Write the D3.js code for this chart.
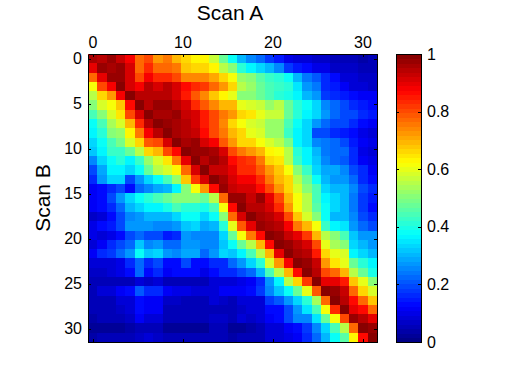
<!DOCTYPE html>
<html>
<head>
<meta charset="utf-8">
<script src="https://cdn.jsdelivr.net/npm/d3@7"></script>
<style>
  html, body { margin: 0; padding: 0; background: #fff; }
  svg { display: block; }
  text { font-family: "Liberation Sans", sans-serif; fill: #000; }
  .tick text { font-size: 16px; }
</style>
</head>
<body>
<svg width="512" height="384"></svg>
<script>
// similarity between scans
var row0  = [.96,.95,.97,.93,.875,.78,.8,.72,.75,.7,.66,.64,.625,.57,.48,.38,.31,.25,.22,.18,.15,.1,.09,.09,.07,.07,.05,.05,.05,.04,.05];
var row1  = [.9,.98,.96,.97,.91,.78,.84,.78,.78,.76,.68,.67,.66,.64,.56,.5,.42,.37,.33,.3,.26,.18,.15,.13,.1,.1,.07,.07,.07,.05,.05];
var row2  = [.78,.9,.98,.97,.92,.8,.88,.83,.83,.8,.74,.74,.74,.71,.66,.62,.53,.5,.46,.43,.41,.38,.3,.24,.21,.17,.13,.09,.09,.07,.07];
var row3  = [.62,.8,.88,.99,.91,.88,.94,.92,.94,.91,.86,.84,.82,.77,.73,.66,.56,.53,.47,.45,.43,.41,.35,.27,.24,.17,.15,.12,.09,.08,.07];
var row4  = [.56,.67,.72,.88,1,.95,.95,.95,.95,.91,.85,.79,.74,.68,.64,.6,.5,.5,.47,.45,.42,.4,.37,.31,.28,.18,.17,.15,.14,.11,.11];
var row5  = [.5,.59,.62,.68,.87,1,.95,.97,.97,.95,.91,.84,.79,.74,.7,.69,.6,.58,.57,.53,.56,.48,.42,.38,.33,.26,.23,.2,.17,.15,.13];
var row6  = [.44,.5,.58,.65,.8,.92,1,.96,.96,.97,.93,.91,.85,.8,.75,.72,.67,.65,.6,.57,.57,.48,.42,.37,.33,.28,.23,.2,.2,.17,.15];
var row7  = [.38,.45,.54,.58,.7,.84,.95,1,.98,.96,.94,.92,.85,.81,.74,.67,.62,.59,.57,.53,.53,.45,.38,.34,.28,.23,.2,.2,.17,.13,.11];
var row8  = [.36,.42,.5,.53,.63,.76,.88,.95,1,.96,.95,.93,.87,.8,.75,.7,.66,.6,.58,.52,.52,.43,.37,.33,.2,.19,.16,.15,.13,.1,.09];
var row9  = [.33,.38,.44,.49,.58,.67,.79,.81,.91,1,.96,.98,.92,.88,.79,.73,.67,.66,.62,.58,.56,.49,.37,.33,.25,.24,.22,.2,.15,.12,.1];
var row10 = [.32,.36,.43,.43,.47,.55,.66,.7,.81,.87,1,.98,.97,.96,.91,.81,.76,.73,.7,.64,.62,.55,.42,.36,.3,.24,.22,.22,.16,.1,.08];
var row11 = [.25,.33,.38,.41,.36,.43,.52,.58,.65,.75,.9,1,.95,.97,.94,.86,.83,.82,.76,.67,.65,.56,.43,.37,.32,.25,.23,.21,.16,.12,.1];
var row12 = [.2,.29,.36,.36,.33,.38,.47,.55,.58,.63,.78,.91,1,.93,.93,.9,.83,.83,.79,.72,.68,.62,.5,.43,.34,.29,.29,.25,.19,.16,.12];
var row13 = [.17,.27,.33,.33,.2,.27,.33,.38,.44,.52,.68,.82,.91,1,.96,.92,.88,.88,.83,.76,.7,.66,.55,.47,.39,.31,.28,.28,.22,.17,.14];
var row14 = [.11,.13,.17,.2,.13,.23,.25,.29,.31,.37,.5,.62,.73,.87,.98,.93,.92,.92,.87,.81,.73,.66,.58,.5,.44,.34,.3,.3,.25,.2,.17];
var row15 = [.11,.14,.19,.28,.33,.38,.42,.45,.47,.5,.51,.51,.48,.56,.78,.98,.97,.93,.97,.9,.8,.7,.62,.55,.45,.37,.33,.31,.24,.18,.15];
var row16 = [.11,.13,.17,.23,.3,.33,.37,.37,.4,.44,.42,.42,.4,.45,.62,.87,.99,.94,.95,.92,.83,.72,.62,.56,.46,.38,.33,.31,.24,.18,.14];
var row17 = [.07,.09,.14,.2,.26,.28,.31,.31,.3,.33,.38,.38,.34,.38,.51,.77,.91,.99,.96,.94,.91,.8,.68,.58,.5,.38,.31,.31,.26,.2,.16];
var row18 = [.1,.14,.15,.2,.27,.28,.28,.26,.26,.28,.32,.34,.29,.31,.42,.6,.79,.9,.98,.96,.95,.88,.75,.7,.62,.43,.37,.35,.27,.22,.2];
var row19 = [.1,.09,.1,.13,.19,.22,.19,.19,.15,.17,.28,.26,.26,.26,.33,.48,.61,.75,.87,1,.97,.93,.9,.82,.7,.55,.5,.45,.32,.27,.27];
var row20 = [.09,.11,.16,.19,.22,.32,.25,.27,.23,.23,.27,.27,.25,.25,.32,.38,.48,.56,.7,.86,1,.97,.95,.91,.8,.6,.54,.5,.33,.31,.28];
var row21 = [.11,.17,.18,.23,.28,.39,.32,.33,.28,.26,.29,.29,.22,.28,.33,.32,.37,.44,.56,.7,.9,1,.96,.95,.85,.66,.6,.58,.37,.34,.3];
var row22 = [.09,.09,.09,.1,.16,.23,.17,.19,.14,.14,.19,.14,.14,.16,.17,.22,.28,.33,.42,.58,.72,.88,1,.97,.93,.73,.65,.6,.48,.41,.36];
var row23 = [.07,.07,.08,.1,.14,.22,.14,.16,.11,.13,.13,.13,.1,.14,.16,.17,.2,.22,.3,.44,.55,.7,.87,1,.95,.8,.77,.69,.55,.47,.4];
var row24 = [.05,.05,.05,.05,.05,.09,.07,.08,.05,.05,.05,.05,.05,.08,.08,.09,.1,.11,.17,.28,.37,.55,.67,.82,1,.9,.9,.85,.68,.6,.5];
var row25 = [.06,.08,.08,.11,.14,.21,.17,.17,.12,.1,.1,.09,.09,.09,.12,.11,.11,.13,.18,.25,.32,.39,.48,.6,.79,1,.97,.93,.77,.67,.58];
var row26 = [.05,.06,.06,.08,.09,.13,.11,.11,.07,.07,.06,.06,.06,.08,.07,.06,.08,.09,.09,.18,.21,.27,.33,.42,.54,.78,.99,.95,.87,.78,.68];
var row27 = [.05,.05,.06,.07,.09,.13,.11,.12,.06,.06,.05,.05,.05,.06,.06,.06,.07,.08,.08,.14,.14,.2,.28,.35,.44,.62,.84,1,.9,.87,.77];
var row28 = [.04,.05,.05,.06,.07,.11,.09,.09,.06,.06,.05,.05,.06,.07,.07,.06,.08,.07,.08,.12,.14,.2,.25,.25,.35,.47,.62,.8,.98,.95,.9];
var row29 = [.03,.03,.03,.03,.04,.06,.05,.05,.03,.03,.03,.03,.03,.05,.05,.03,.03,.04,.05,.08,.09,.11,.14,.18,.26,.33,.45,.56,.77,1,.97];
var row30 = [.04,.05,.05,.05,.06,.07,.08,.07,.05,.05,.05,.05,.05,.05,.06,.04,.05,.05,.06,.08,.08,.1,.11,.16,.22,.3,.38,.46,.63,.87,1];

var matrix = [row0,row1,row2,row3,row4,row5,row6,row7,row8,row9,row10,row11,row12,row13,row14,row15,
              row16,row17,row18,row19,row20,row21,row22,row23,row24,row25,row26,row27,row28,row29,row30];

var xTicks = [0, 10, 20, 30];
var yTicks = [0, 5, 10, 15, 20, 25, 30];
var barTicks = [0, 0.2, 0.4, 0.6, 0.8, 1];

var svg = d3.select('svg');

// plot box
var left = 88, right = 377, top_ = 54, bottom = 342;
// bar box
var barLeft = 396, barRight = 421;

// jet colormap, 64 steps like matlab
var jet = d3.scaleLinear()
    .domain([0, .125, .375, .625, .875, 1])
    .range(['#000080', '#0000ff', '#00ffff', '#ffff00', '#ff0000', '#800000']);
var steps = d3.range(64).map(function(i) { return jet((i + .5) / 64); });
var color = d3.scaleQuantize().domain([0, 1]).range(steps);

// cells fill the box, the tick scale runs a little different from them
var cols = d3.scaleBand().domain(d3.range(31)).range([left, right]);
var rows = d3.scaleBand().domain(d3.range(31)).range([top_, bottom]);
var xScale = d3.scaleLinear().domain([-0.5, 31.61]).range([left, right]);
var yScale = d3.scaleLinear().domain([-0.5, 31.5]).range([top_, bottom]);

var cells = svg.append('g').attr('shape-rendering', 'crispEdges');
matrix.forEach(function(values, r) {
    cells.selectAll('.r' + r)
        .data(values)
        .enter().append('rect')
        .attr('class', 'r' + r)
        .attr('x', function(d, c) { return cols(c); })
        .attr('y', rows(r))
        .attr('width', cols.bandwidth() + .5)
        .attr('height', rows.bandwidth() + .5)
        .style('fill', function(d) { return color(d); });
});

// axes, ticks point inwards on all four sides
function box(g) {
    g.selectAll('.domain').style('stroke', '#000').style('stroke-width', 1);
    g.selectAll('line').style('stroke', '#000').attr('shape-rendering', 'crispEdges');
    g.attr('shape-rendering', 'crispEdges');
}

svg.append('g').attr('transform', 'translate(0,' + top_ + ')')
    .call(d3.axisTop(xScale).tickValues(xTicks).tickSizeInner(-3).tickSizeOuter(0).tickPadding(6))
    .call(box);
svg.append('g').attr('transform', 'translate(0,' + bottom + ')')
    .call(d3.axisBottom(xScale).tickValues(xTicks).tickSizeInner(-3).tickSizeOuter(0).tickFormat(''))
    .call(box);
svg.append('g').attr('transform', 'translate(' + left + ',0)')
    .call(d3.axisLeft(yScale).tickValues(yTicks).tickSizeInner(-3).tickSizeOuter(0).tickPadding(6))
    .call(box);
svg.append('g').attr('transform', 'translate(' + right + ',0)')
    .call(d3.axisRight(yScale).tickValues(yTicks).tickSizeInner(-3).tickSizeOuter(0).tickFormat(''))
    .call(box);

// colorbar
var barScale = d3.scaleLinear().domain([0, 1]).range([bottom, top_]);
svg.append('g').attr('shape-rendering', 'crispEdges')
    .selectAll('rect')
    .data(steps)
    .enter().append('rect')
    .attr('x', barLeft)
    .attr('y', function(d, i) { return barScale((i + 1) / 64); })
    .attr('width', barRight - barLeft)
    .attr('height', (bottom - top_) / 64 + .5)
    .style('fill', function(d) { return d; });

svg.append('g').attr('transform', 'translate(' + barRight + ',0)')
    .call(d3.axisRight(barScale).tickValues(barTicks).tickFormat(d3.format('~g')).tickSizeInner(-3).tickSizeOuter(0).tickPadding(6))
    .call(box);
svg.append('g').attr('transform', 'translate(' + barLeft + ',0)')
    .call(d3.axisLeft(barScale).tickValues(barTicks).tickFormat('').tickSizeInner(-3).tickSizeOuter(0))
    .call(box);
svg.append('g').attr('transform', 'translate(0,' + top_ + ')')
    .call(d3.axisTop(d3.scaleLinear().range([barLeft, barRight])).tickValues([]).tickSizeOuter(0))
    .call(box);
svg.append('g').attr('transform', 'translate(0,' + bottom + ')')
    .call(d3.axisBottom(d3.scaleLinear().range([barLeft, barRight])).tickValues([]).tickSizeOuter(0))
    .call(box);

// titles
svg.append('text')
    .attr('x', 230)
    .attr('y', 20)
    .attr('text-anchor', 'middle')
    .style('font-size', '21px')
    .text('Scan A');

svg.append('text')
    .attr('transform', 'translate(50,198) rotate(-90)')
    .attr('text-anchor', 'middle')
    .style('font-size', '21px')
    .text('Scan B');
</script>
</body>
</html>
